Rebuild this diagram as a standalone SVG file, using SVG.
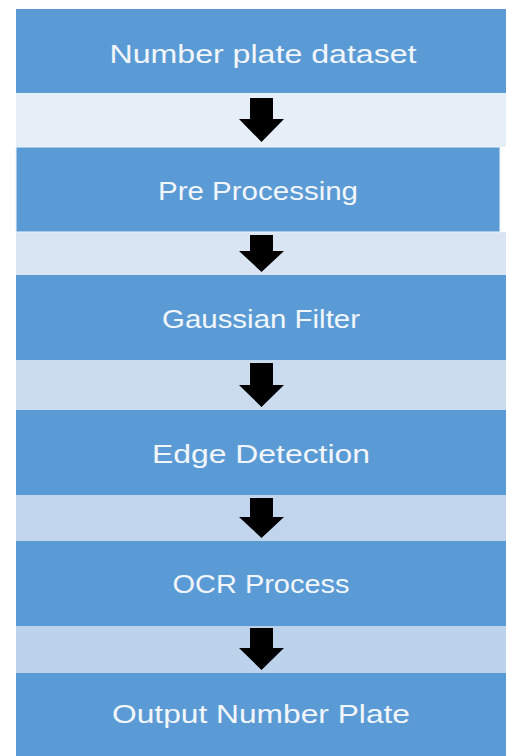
<svg xmlns="http://www.w3.org/2000/svg" width="506" height="756" viewBox="0 0 506 756">
<style>
.box{fill:#5b9bd5;}
.lbl{font-family:"Liberation Sans",Arial,sans-serif;font-size:25px;fill:#f2f6fa;text-anchor:middle;}
.arr{fill:#000000;}
</style>
<rect x="0" y="0" width="506" height="756" fill="#ffffff"/>
<g id="strips">
<rect x="16" y="93" width="490" height="54" fill="#e6eef7"/>
<rect x="16" y="232" width="490" height="43" fill="#d9e5f2"/>
<rect x="16" y="360" width="490" height="50" fill="#cbdcee"/>
<rect x="16" y="495" width="490" height="46" fill="#c1d6ec"/>
<rect x="16" y="626" width="490" height="47" fill="#bcd3eb"/>
</g>
<g id="n1"><rect class="box" x="16" y="9" width="490" height="84"/><text class="lbl" x="263" y="63" textLength="307" lengthAdjust="spacingAndGlyphs">Number plate dataset</text></g>
<g id="n2"><rect class="box" x="16" y="147" width="484" height="85" stroke="#eef4fa" stroke-width="1"/><text class="lbl" x="258" y="200" textLength="200" lengthAdjust="spacingAndGlyphs">Pre Processing</text></g>
<g id="n3"><rect class="box" x="16" y="275" width="490" height="85"/><text class="lbl" x="261" y="328" textLength="198" lengthAdjust="spacingAndGlyphs">Gaussian Filter</text></g>
<g id="n4"><rect class="box" x="16" y="410" width="490" height="85"/><text class="lbl" x="261" y="463" textLength="218" lengthAdjust="spacingAndGlyphs">Edge Detection</text></g>
<g id="n5"><rect class="box" x="16" y="541" width="490" height="85"/><text class="lbl" x="261" y="593" textLength="177" lengthAdjust="spacingAndGlyphs">OCR Process</text></g>
<g id="n6"><rect class="box" x="16" y="673" width="490" height="83"/><text class="lbl" x="261" y="723" textLength="298" lengthAdjust="spacingAndGlyphs">Output Number Plate</text></g>
<g id="connectors">
<path class="arr" d="M250 98 H273 V119 H284 L261.5 142 L239 119 H250 Z"/>
<path class="arr" d="M250 235 H273 V251 H284 L261.5 272 L239 251 H250 Z"/>
<path class="arr" d="M250 363 H273 V385 H284 L261.5 407 L239 385 H250 Z"/>
<path class="arr" d="M250 498 H273 V517 H284 L261.5 538 L239 517 H250 Z"/>
<path class="arr" d="M250 628 H273 V648 H284 L261.5 670 L239 648 H250 Z"/>
</g>
</svg>
